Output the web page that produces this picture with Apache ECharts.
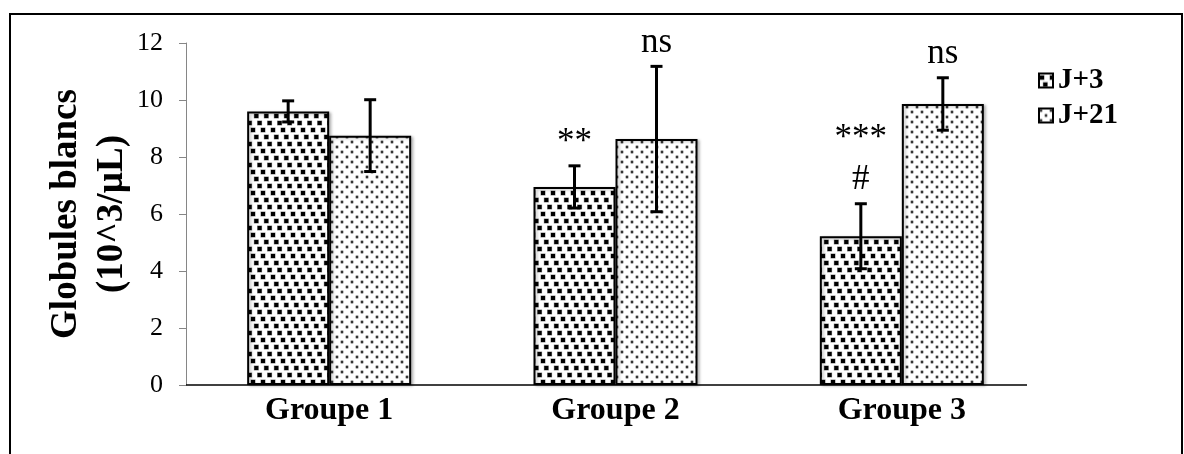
<!DOCTYPE html>
<html><head><meta charset="utf-8">
<script src="https://cdn.jsdelivr.net/npm/echarts@6/dist/echarts.min.js"></script>
<style>html,body{margin:0;padding:0;background:#fff}#c{width:1184px;height:454px}</style>
</head><body><div id="c"></div>
<script>
// ---- data ----
const categories = ['Groupe 1', 'Groupe 2', 'Groupe 3'];
const seriesNames = ['J+3', 'J+21'];
const j3Values = [9.6, 6.95, 5.22];
const j3Errors = [0.37, 0.74, 1.14];
const j21Values = [8.75, 8.63, 9.86];
const j21Errors = [1.26, 2.55, 0.92];
const j3Marks = [[], ['**'], ['#', '***']];   // listed from bottom to top
const j21Marks = [[], ['ns'], ['ns']];
const yMin = 0, yMax = 12, yInterval = 2;

// ---- style ----
const SERIF = '"Liberation Serif","Times New Roman",serif';
const BAR_W = 82;

function makeTile(w, h, draw) {
  const c = document.createElement('canvas');
  c.width = w; c.height = h;
  const g = c.getContext('2d');
  g.fillStyle = '#fff'; g.fillRect(0, 0, w, h);
  draw(g, w, h);
  return c;
}
const squareTile = makeTile(10, 21, (g, w, h) => {
  [[0, 0], [3.3, 7], [6.6, 14]].forEach(([x, y]) => {
    for (const dx of [0, -w]) for (const dy of [0, -h]) {
      g.fillStyle = 'rgba(0,0,0,0.45)';
      g.fillRect(x + dx + 0.5, y + dy + 1.5, 5, 5);
      g.fillStyle = '#000';
      g.fillRect(x + dx + 1, y + dy + 2, 4, 4);
    }
  });
});
const dotTile = makeTile(10, 10, (g) => {
  [[2, 2], [7, 7]].forEach(([x, y]) => {
    g.fillStyle = 'rgba(60,60,60,0.35)';
    g.beginPath(); g.arc(x, y, 1.9, 0, Math.PI * 2); g.fill();
    g.fillStyle = '#333';
    g.beginPath(); g.arc(x, y, 1.2, 0, Math.PI * 2); g.fill();
  });
});

function barSeries(name, values, tile) {
  return {
    type: 'bar', name, data: values, barWidth: BAR_W, barGap: '0%',
    itemStyle: {
      color: { image: tile, repeat: 'repeat' }, borderColor: '#000', borderWidth: 2,
      shadowColor: 'rgba(0,0,0,0.25)', shadowBlur: 3, shadowOffsetX: 2, shadowOffsetY: 1
    },
    emphasis: { disabled: true }
  };
}
function errSeries(name, values, errors, marks, side) {
  return {
    type: 'custom', name, z: 5, silent: true,
    data: values.map((v, i) => [i, v, errors[i]]),
    renderItem(params, api) {
      const i = api.value(0), v = api.value(1), e = api.value(2);
      const top = api.coord([i, v + e]), bot = api.coord([i, v - e]);
      const x = top[0] + side * BAR_W / 2;
      const ls = { stroke: '#000', lineWidth: 3 };
      const children = [
        { type: 'line', shape: { x1: x, y1: top[1], x2: x, y2: bot[1] }, style: ls },
        { type: 'line', shape: { x1: x - 6, y1: top[1], x2: x + 6, y2: top[1] }, style: ls },
        { type: 'line', shape: { x1: x - 6, y1: bot[1], x2: x + 6, y2: bot[1] }, style: ls }
      ];
      (marks[i] || []).forEach((t, k) => children.push({
        type: 'text',
        style: { text: t, x: x, y: top[1] - 6 - k * 41, align: 'center', verticalAlign: 'bottom',
                 font: '35px ' + SERIF, fill: '#000' }
      }));
      return { type: 'group', children };
    }
  };
}

const chart = echarts.init(document.getElementById('c'), null, { renderer: 'canvas' });
chart.setOption({
  backgroundColor: '#fff',
  animation: false,
  grid: { left: 186, right: 139, top: 43, bottom: 69 },
  legend: {
    data: seriesNames, orient: 'vertical', left: 1038, top: 66, itemGap: 6,
    itemWidth: 14, itemHeight: 14, icon: 'rect', padding: 0,
    textStyle: { fontFamily: SERIF, fontWeight: 'bold', fontSize: 29, color: '#000' }
  },
  xAxis: {
    type: 'category', data: categories,
    axisLine: { show: false }, axisTick: { show: false },
    axisLabel: { fontFamily: SERIF, fontWeight: 'bold', fontSize: 32, color: '#000', margin: 10 }
  },
  yAxis: {
    type: 'value', min: yMin, max: yMax, interval: yInterval,
    axisLine: { show: true, lineStyle: { color: '#868686', width: 1 } },
    axisTick: { show: true, length: 7, lineStyle: { color: '#868686' } },
    splitLine: { show: false },
    axisLabel: { fontFamily: SERIF, fontSize: 26, color: '#000', margin: 23 }
  },
  graphic: [
    { type: 'rect', shape: { x: 10, y: 14, width: 1172, height: 500 }, style: { fill: 'none', stroke: '#000', lineWidth: 2 }, silent: true },
    { type: 'line', shape: { x1: 186, y1: 385, x2: 1027, y2: 385 }, style: { stroke: '#000', lineWidth: 1.5 }, z: 10, silent: true },
    { type: 'text', x: 89, y: 214, rotation: Math.PI / 2, silent: true,
      style: { text: 'Globules blancs\n(10^3/µL)', align: 'center', verticalAlign: 'middle',
               font: 'bold 37px ' + SERIF, lineHeight: 46, fill: '#000' } }
  ],
  series: [
    barSeries(seriesNames[0], j3Values, squareTile),
    barSeries(seriesNames[1], j21Values, dotTile),
    errSeries('err-J+3', j3Values, j3Errors, j3Marks, -1),
    errSeries('err-J+21', j21Values, j21Errors, j21Marks, 1)
  ]
});
</script></body></html>
